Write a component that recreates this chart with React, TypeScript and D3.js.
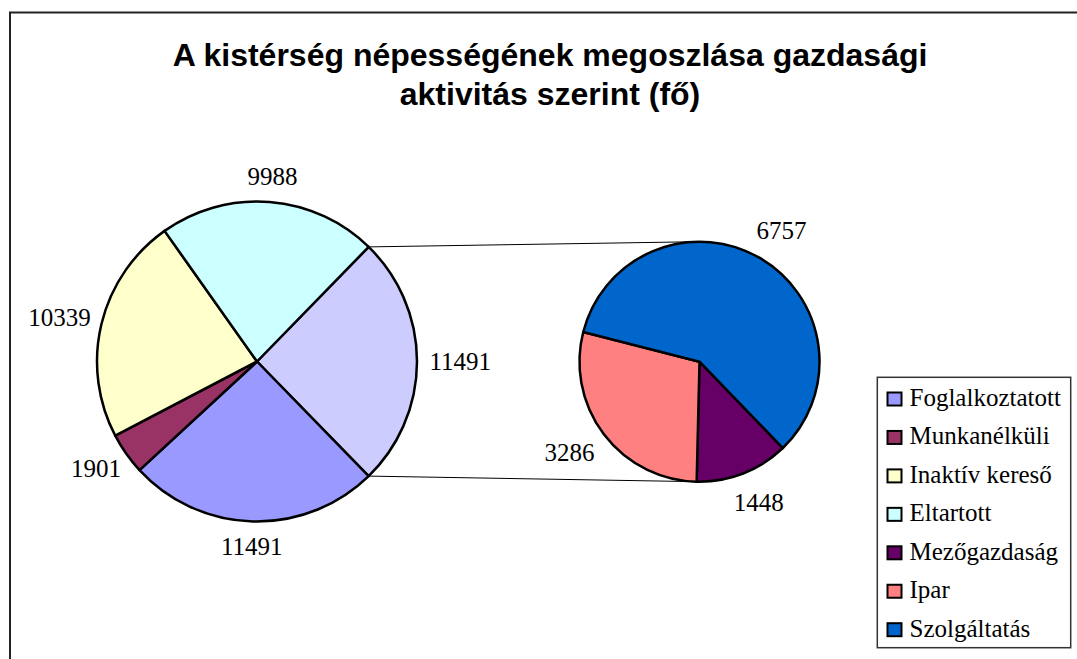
import React from "react";
import * as d3 from "d3";

// main pie categories (the split slice is the sum of the sub pie)
const mainLabels = ["Foglalkoztatott", "Munkanélküli", "Inaktív kereső", "Eltartott"];
const mainValues = [11491, 1901, 10339, 9988];
const mainColors = ["#9999FF", "#993366", "#FFFFCC", "#CCFFFF"];
const otherColor = "#CCCCFF";

// secondary pie (breakdown of Foglalkoztatott)
const subLabels = ["Mezőgazdaság", "Ipar", "Szolgáltatás"];
const subValues = [1448, 3286, 6757];
const subColors = ["#660066", "#FF8080", "#0066CC"];

const titleLines = ["A kistérség népességének megoszlása gazdasági", "aktivitás szerint (fő)"];

const W = 1077;
const H = 659;
const FONT = 25;
const serif = "Liberation Serif, DejaVu Serif, serif";

const main = { cx: 257, cy: 361.5, r: 160, gap: 12 };
const sub = { cx: 699.5, cy: 361.7, r: 120, gap: 18 };
const subStartDeg = 136;

type Slice = { label: string; value: number; color: string };

function labelPos(a: d3.PieArcDatum<Slice>, p: { cx: number; cy: number; r: number; gap: number }) {
	const mid = (a.startAngle + a.endAngle) / 2;
	const dx = Math.sin(mid);
	const dy = -Math.cos(mid);
	const w = String(a.data.value).length * FONT * 0.5;
	const h = FONT * 1.08;
	return [
		p.cx + dx * (p.r + p.gap) + (dx * w) / 2,
		p.cy + dy * (p.r + p.gap) + (dy * h) / 2,
	];
}

function tangent(px: number, py: number, cx: number, cy: number, r: number, side: number) {
	const vx = px - cx;
	const vy = py - cy;
	const d = Math.hypot(vx, vy);
	const base = Math.atan2(vy, vx);
	const off = Math.acos(r / d);
	const t = base + side * off;
	return [cx + r * Math.cos(t), cy + r * Math.sin(t)];
}

export default function App() {
	const otherTotal = d3.sum(subValues);
	const mainTotal = otherTotal + d3.sum(mainValues);
	const otherAngle = (otherTotal / mainTotal) * 2 * Math.PI;

	const mainData: Slice[] = [
		{ label: "other", value: otherTotal, color: otherColor },
		...mainLabels.map((l, i) => ({ label: l, value: mainValues[i], color: mainColors[i] })),
	];
	const subData: Slice[] = subLabels.map((l, i) => ({ label: l, value: subValues[i], color: subColors[i] }));

	const start = Math.PI / 2 - otherAngle / 2;
	const mainArcs = d3
		.pie<Slice>()
		.sort(null)
		.value((d) => d.value)
		.startAngle(start)
		.endAngle(start + 2 * Math.PI)(mainData);

	const subStart = (subStartDeg * Math.PI) / 180;
	const subArcs = d3
		.pie<Slice>()
		.sort(null)
		.value((d) => d.value)
		.startAngle(subStart)
		.endAngle(subStart + 2 * Math.PI)(subData);

	const mainArc = d3.arc<d3.PieArcDatum<Slice>>().innerRadius(0).outerRadius(main.r);
	const subArc = d3.arc<d3.PieArcDatum<Slice>>().innerRadius(0).outerRadius(sub.r);

	// connector lines from edges of the split slice to the secondary pie
	const o = mainArcs[0];
	const p1 = [main.cx + main.r * Math.sin(o.startAngle), main.cy - main.r * Math.cos(o.startAngle)];
	const p2 = [main.cx + main.r * Math.sin(o.endAngle), main.cy - main.r * Math.cos(o.endAngle)];
	const t1 = tangent(p1[0], p1[1], sub.cx, sub.cy, sub.r, 1);
	const t2 = tangent(p2[0], p2[1], sub.cx, sub.cy, sub.r, -1);

	const legendItems = [
		...mainLabels.map((l, i) => ({ label: l, color: mainColors[i] })),
		...subLabels.map((l, i) => ({ label: l, color: subColors[i] })),
	];
	const legendY = d3.scaleLinear().domain([0, legendItems.length - 1]).range([406, 636.7]);

	return (
		<svg width={W} height={H} style={{ position: "absolute", left: 0, top: 0, background: "#fff" }}>
			<rect x={10} y={12.5} width={1100} height={700} fill="#fff" stroke="#222" strokeWidth={2} />

			{titleLines.map((t, i) => (
				<text
					key={t}
					x={550}
					y={66 + i * 38.5}
					textAnchor="middle"
					fontFamily="Liberation Sans, Arial, sans-serif"
					fontWeight="bold"
					fontSize={32}
					fill="#000"
				>
					{t}
				</text>
			))}

			<line x1={p1[0]} y1={p1[1]} x2={t1[0]} y2={t1[1]} stroke="#000" strokeWidth={1} />
			<line x1={p2[0]} y1={p2[1]} x2={t2[0]} y2={t2[1]} stroke="#000" strokeWidth={1} />

			<g transform={`translate(${main.cx},${main.cy})`}>
				{mainArcs.map((a) => (
					<path key={a.data.label} d={mainArc(a) || ""} fill={a.data.color} stroke="#000" strokeWidth={2.5} strokeLinejoin="round" />
				))}
			</g>
			<g transform={`translate(${sub.cx},${sub.cy})`}>
				{subArcs.map((a) => (
					<path key={a.data.label} d={subArc(a) || ""} fill={a.data.color} stroke="#000" strokeWidth={2.5} strokeLinejoin="round" />
				))}
			</g>

			{mainArcs.map((a) => {
				const [x, y] = labelPos(a, main);
				return (
					<text key={"ml" + a.data.label} x={x} y={y} dy="0.33em" textAnchor="middle" style={{ fontFamily: serif }} fontSize={FONT} fill="#000">
						{a.data.value}
					</text>
				);
			})}
			{subArcs.map((a) => {
				const [x, y] = labelPos(a, sub);
				return (
					<text key={"sl" + a.data.label} x={x} y={y} dy="0.33em" textAnchor="middle" style={{ fontFamily: serif }} fontSize={FONT} fill="#000">
						{a.data.value}
					</text>
				);
			})}

			<rect x={877.3} y={377.3} width={193.4} height={270.4} fill="#fff" stroke="#333" strokeWidth={1.5} />
			{legendItems.map((d, i) => (
				<g key={d.label}>
					<rect x={887.5} y={legendY(i) - 13.5} width={14} height={13} fill={d.color} stroke="#000" strokeWidth={2} />
					<text x={909.5} y={legendY(i)} style={{ fontFamily: serif }} fontSize={FONT} fill="#000">
						{d.label}
					</text>
				</g>
			))}
		</svg>
	);
}
